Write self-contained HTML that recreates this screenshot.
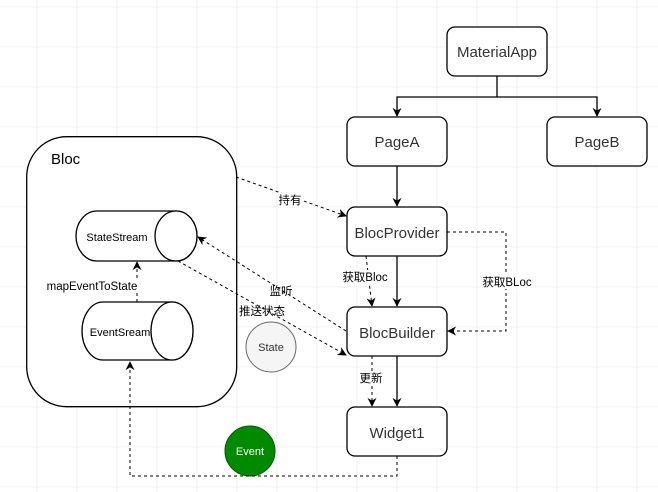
<!DOCTYPE html>
<html><head><meta charset="utf-8"><style>
html,body{margin:0;padding:0;background:#fff}
svg{display:block}
text{font-family:"Liberation Sans","Noto Sans CJK SC",sans-serif}
</style></head><body>
<svg width="658" height="492" viewBox="0 0 658 492" xmlns="http://www.w3.org/2000/svg">
<defs>
<pattern id="g" x="36.7" y="6.7" width="40" height="40" patternUnits="userSpaceOnUse">
<path d="M0 0H40M0 0V40" stroke="#e4e4e4" stroke-width="1" fill="none"/>
</pattern>
<marker id="a" viewBox="0 0 10 10" refX="9" refY="5" markerWidth="9" markerHeight="9" orient="auto-start-reverse" markerUnits="userSpaceOnUse">
<path d="M0 0L10 5L0 10L3 5Z" fill="#000"/>
</marker>
</defs>
<rect width="658" height="492" fill="url(#g)"/>
<g fill="#fff" stroke="#000" stroke-width="1.3">
<rect x="26.7" y="136.7" width="210" height="270" rx="40"/>
<rect x="447" y="27" width="100" height="49" rx="8"/>
<rect x="347" y="117" width="100" height="49" rx="8"/>
<rect x="547" y="117" width="100" height="49" rx="8"/>
<rect x="347" y="207" width="100" height="49" rx="8"/>
<rect x="347" y="307" width="100" height="49" rx="8"/>
<rect x="347" y="407" width="100" height="49" rx="8"/>
<path d="M97 211H176A21 25 0 0 1 176 261H97A21 25 0 0 1 97 211Z"/>
<ellipse cx="176" cy="236" rx="21" ry="25"/>
<path d="M103 302H172A21 29 0 0 1 172 360H103A21 29 0 0 1 103 302Z"/>
<ellipse cx="172" cy="331" rx="21" ry="29"/>
</g>
<circle cx="271" cy="347" r="25" fill="#f5f5f5" stroke="#666"/>
<circle cx="250" cy="451" r="25" fill="#008a00" stroke="#005700"/>
<g stroke="#000" stroke-width="1.3" fill="none">
<path d="M497 76V97H397V116" marker-end="url(#a)"/>
<path d="M497 97H597V116" marker-end="url(#a)"/>
<path d="M397 166V206" marker-end="url(#a)"/>
<path d="M397 256V306" marker-end="url(#a)"/>
<path d="M397 356V406" marker-end="url(#a)"/>
</g>
<g stroke="#000" stroke-width="1" fill="none" stroke-dasharray="3 3">
<path d="M236 177L346 216" marker-end="url(#a)"/>
<path d="M346 331L198 237" marker-end="url(#a)"/>
<path d="M178 261L346 355" marker-end="url(#a)"/>
<path d="M366 256L372 306" marker-end="url(#a)"/>
<path d="M447 232H506V331H448" marker-end="url(#a)"/>
<path d="M372 356V406" marker-end="url(#a)"/>
<path d="M137 302V262" marker-end="url(#a)"/>
<path d="M397 456V476H130V362" marker-end="url(#a)"/>
</g>
<g font-size="15" fill="#333" text-anchor="middle">
<text x="497" y="57">MaterialApp</text>
<text x="397" y="147">PageA</text>
<text x="597" y="147">PageB</text>
<text x="397" y="238">BlocProvider</text>
<text x="397" y="338">BlocBuilder</text>
<text x="397" y="438">Widget1</text>
</g>
<text x="51" y="164" font-size="15" fill="#000">Bloc</text>
<g font-size="11" fill="#000" text-anchor="middle">
<text x="117" y="241">StateStream</text>
<text x="120" y="336">EventSream</text>
<text x="271" y="351" fill="#333">State</text>
<text x="250" y="455" fill="#fff">Event</text>
</g>
<g font-size="11.5" fill="#000" text-anchor="middle">
<rect x="44" y="279" width="95" height="14" fill="#fff"/>
<text x="92" y="290">mapEventToState</text>
<rect x="278" y="193" width="24" height="14" fill="#fff"/>
<text x="290" y="204">持有</text>
<text x="281" y="295">监听</text>
<text x="262" y="315">推送状态</text>
<rect x="341" y="270" width="48" height="14" fill="#fff"/>
<text x="365" y="281">获取Bloc</text>
<rect x="480" y="275" width="54" height="14" fill="#fff"/>
<text x="507" y="286">获取BLoc</text>
<rect x="359" y="371" width="24" height="14" fill="#fff"/>
<text x="371" y="382">更新</text>
</g>
</svg>
</body></html>
